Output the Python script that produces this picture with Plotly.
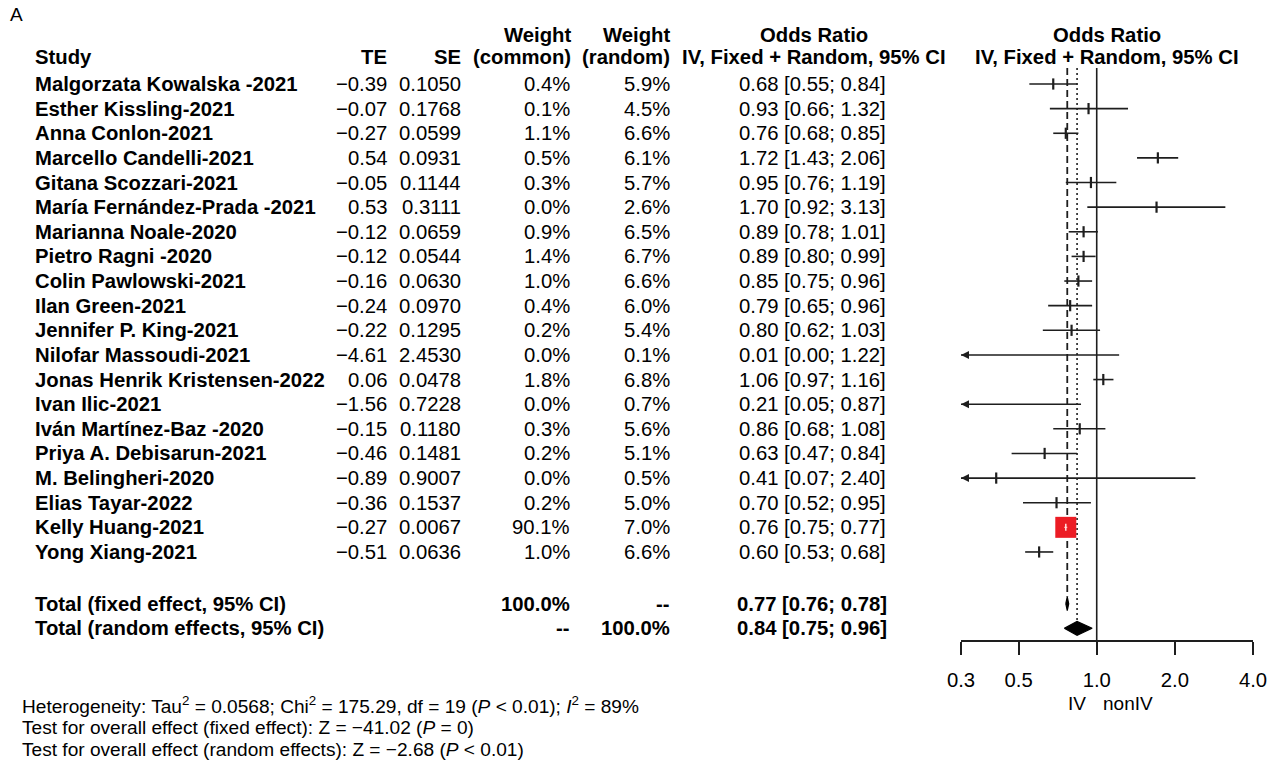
import math
import plotly.graph_objects as go

# ---------------- data ----------------
studies = [
    "Malgorzata Kowalska -2021", "Esther Kissling-2021", "Anna Conlon-2021",
    "Marcello Candelli-2021", "Gitana Scozzari-2021", "María Fernández-Prada -2021",
    "Marianna Noale-2020", "Pietro Ragni -2020", "Colin Pawlowski-2021",
    "Ilan Green-2021", "Jennifer P. King-2021", "Nilofar Massoudi-2021",
    "Jonas Henrik Kristensen-2022", "Ivan Ilic-2021", "Iván Martínez-Baz -2020",
    "Priya A. Debisarun-2021", "M. Belingheri-2020", "Elias Tayar-2022",
    "Kelly Huang-2021", "Yong Xiang-2021",
]
te = [-0.39, -0.07, -0.27, 0.54, -0.05, 0.53, -0.12, -0.12, -0.16, -0.24,
      -0.22, -4.61, 0.06, -1.56, -0.15, -0.46, -0.89, -0.36, -0.27, -0.51]
se = [0.1050, 0.1768, 0.0599, 0.0931, 0.1144, 0.3111, 0.0659, 0.0544, 0.0630, 0.0970,
      0.1295, 2.4530, 0.0478, 0.7228, 0.1180, 0.1481, 0.9007, 0.1537, 0.0067, 0.0636]
w_common = [0.4, 0.1, 1.1, 0.5, 0.3, 0.0, 0.9, 1.4, 1.0, 0.4,
            0.2, 0.0, 1.8, 0.0, 0.3, 0.2, 0.0, 0.2, 90.1, 1.0]
w_random = [5.9, 4.5, 6.6, 6.1, 5.7, 2.6, 6.5, 6.7, 6.6, 6.0,
            5.4, 0.1, 6.8, 0.7, 5.6, 5.1, 0.5, 5.0, 7.0, 6.6]
or_est = [0.68, 0.93, 0.76, 1.72, 0.95, 1.70, 0.89, 0.89, 0.85, 0.79,
          0.80, 0.01, 1.06, 0.21, 0.86, 0.63, 0.41, 0.70, 0.76, 0.60]
or_lo = [0.55, 0.66, 0.68, 1.43, 0.76, 0.92, 0.78, 0.80, 0.75, 0.65,
         0.62, 0.00, 0.97, 0.05, 0.68, 0.47, 0.07, 0.52, 0.75, 0.53]
or_hi = [0.84, 1.32, 0.85, 2.06, 1.19, 3.13, 1.01, 0.99, 0.96, 0.96,
         1.03, 1.22, 1.16, 0.87, 1.08, 0.84, 2.40, 0.95, 0.77, 0.68]

total_labels = ["Total (fixed effect, 95% CI)", "Total (random effects, 95% CI)"]
total_wc = ["100.0%", "--"]
total_wr = ["--", "100.0%"]
total_est = [0.77, 0.84]
total_lo = [0.76, 0.75]
total_hi = [0.78, 0.96]

axis_ticks = [0.3, 0.5, 1.0, 2.0, 4.0]
axis_ticktext = ["0.3", "0.5", "1.0", "2.0", "4.0"]
axis_min, axis_max = 0.3, 4.0

het_lines = [
    "Heterogeneity: Tau<sup>2</sup> = 0.0568; Chi<sup>2</sup> = 175.29, df = 19 (<i>P</i> < 0.01); <i>I</i><sup>2</sup> = 89%",
    "Test for overall effect (fixed effect): Z = \u221241.02 (<i>P</i> = 0)",
    "Test for overall effect (random effects): Z = \u22122.68 (<i>P</i> < 0.01)",
]

# ---------------- layout constants ----------------
W, H = 1279, 764
FONT = "Liberation Sans, Arial, Helvetica, sans-serif"
FS = 20.3
ROW0_PX, ROW_STEP = 84.0, 24.63
AXIS_PX, TOP_PX = 640.0, 20.0
n = len(studies)
study_rows = list(range(n))
total_rows = [n + 1.1, n + 2.1]
hdr_rows = [-2.0, -1.1]
y_bottom = (AXIS_PX - ROW0_PX) / ROW_STEP
y_top = (TOP_PX - ROW0_PX) / ROW_STEP
line_top = -0.65
DH = 0.28  # diamond half height (rows)
INK = "#1e1e1e"


def fmt_num(v, d):
    s = f"{abs(v):.{d}f}"
    return ("\u2212" + s) if v < 0 else s


def fmt_ci(e, l, h):
    return f"{e:.2f} [{l:.2f}; {h:.2f}]"


fig = go.Figure()

# reference lines
fig.add_trace(go.Scatter(x=[1.0, 1.0], y=[line_top, y_bottom], mode="lines",
                         line=dict(color=INK, width=1.6)))
fig.add_trace(go.Scatter(x=[total_est[0]] * 2, y=[line_top, total_rows[0] - DH], mode="lines",
                         line=dict(color=INK, width=1.8, dash="7px,4px")))
fig.add_trace(go.Scatter(x=[total_est[1]] * 2, y=[line_top, total_rows[1] - DH], mode="lines",
                         line=dict(color=INK, width=1.6, dash="2px,3px")))

# CI lines (clipped to axis)
cx, cy = [], []
for i in range(n):
    cx += [max(or_lo[i], axis_min), min(or_hi[i], axis_max), None]
    cy += [study_rows[i], study_rows[i], None]
fig.add_trace(go.Scatter(x=cx, y=cy, mode="lines", line=dict(color=INK, width=1.6)))

# arrows for truncated CIs
ax_ = [axis_min for i in range(n) if or_lo[i] < axis_min]
ay_ = [study_rows[i] for i in range(n) if or_lo[i] < axis_min]
fig.add_trace(go.Scatter(x=ax_, y=ay_, mode="markers", cliponaxis=False,
                         marker=dict(symbol="arrow-left", size=8, color=INK,
                                     line=dict(width=0))))

# squares: area proportional to common weight
wmax = max(w_common)
sizes = [21 * math.sqrt(w / wmax) for w in w_common]
big = [i for i in range(n) if sizes[i] >= 8 and axis_min <= or_est[i] <= axis_max]
small = [i for i in range(n) if sizes[i] < 8 and axis_min <= or_est[i] <= axis_max]
fig.add_trace(go.Scatter(x=[or_est[i] for i in small], y=[study_rows[i] for i in small],
                         mode="markers",
                         marker=dict(symbol="line-ns", size=8, color=INK,
                                     line=dict(color=INK, width=2.2))))
fig.add_trace(go.Scatter(x=[or_est[i] for i in big], y=[study_rows[i] for i in big],
                         mode="markers",
                         marker=dict(symbol="square", size=[sizes[i] for i in big],
                                     color="#ec1c24", opacity=1, line=dict(width=0))))
bx, by = [], []
for i in big:
    bx += [or_lo[i], or_hi[i], None]
    by += [study_rows[i], study_rows[i], None]
fig.add_trace(go.Scatter(x=bx, y=by, mode="lines", line=dict(color="#ffd0d0", width=1.2)))
fig.add_trace(go.Scatter(x=[or_est[i] for i in big], y=[study_rows[i] for i in big],
                         mode="markers",
                         marker=dict(symbol="line-ns", size=5, color="white",
                                     line=dict(color="#ffe0e0", width=1.5))))

# diamonds
for k in range(2):
    r = total_rows[k]
    fig.add_trace(go.Scatter(
        x=[total_lo[k], total_est[k], total_hi[k], total_est[k], total_lo[k]],
        y=[r, r - DH, r, r + DH, r], mode="lines", fill="toself",
        fillcolor="black", line=dict(color="black", width=1.2)))

# ---------------- text ----------------
ann = []


def txt(x_px, row, text, anchor="left", bold=False, size=FS, yref="y"):
    t = f"<b>{text}</b>" if bold else text
    ann.append(dict(x=x_px / W, xref="paper", y=row, yref=yref, text=t,
                    xanchor=anchor, yanchor="middle", showarrow=False,
                    font=dict(family=FONT, size=size, color="black")))


# headers
txt(33, hdr_rows[1], "Study", bold=True)
txt(389, hdr_rows[1], "TE", "right", True)
txt(463, hdr_rows[1], "SE", "right", True)
txt(573, hdr_rows[0], "Weight", "right", True)
txt(573, hdr_rows[1], "(common)", "right", True)
txt(672, hdr_rows[0], "Weight", "right", True)
txt(672, hdr_rows[1], "(random)", "right", True)
txt(814, hdr_rows[0], "Odds Ratio", "center", True)
txt(814, hdr_rows[1], "IV, Fixed + Random, 95% CI", "center", True)
txt(1107, hdr_rows[0], "Odds Ratio", "center", True)
txt(1107, hdr_rows[1], "IV, Fixed + Random, 95% CI", "center", True)

for i in range(n):
    r = study_rows[i]
    txt(33, r, studies[i], bold=True)
    txt(389, r, fmt_num(te[i], 2), "right")
    txt(463, r, f"{se[i]:.4f}", "right")
    txt(572, r, f"{w_common[i]:.1f}%", "right")
    txt(672, r, f"{w_random[i]:.1f}%", "right")
    txt(812, r, fmt_ci(or_est[i], or_lo[i], or_hi[i]), "center")

for k in range(2):
    r = total_rows[k]
    txt(33, r, total_labels[k], bold=True)
    txt(572, r, total_wc[k], "right", True)
    txt(672, r, total_wr[k], "right", True)
    txt(812, r, fmt_ci(total_est[k], total_lo[k], total_hi[k]), "center", True)

# panel letter
txt(8, 1 - 15 / H, "A", size=19, yref="paper")
# favours labels
txt(1077, 1 - 703 / H, "IV", "center", size=19, yref="paper")
txt(1128, 1 - 703 / H, "nonIV", "center", size=19, yref="paper")
# heterogeneity
for j, line in enumerate(het_lines):
    txt(20, 1 - (705 + 22 * j) / H, line, size=19.1, yref="paper")

fig.update_layout(
    template="none",
    width=W, height=H, margin=dict(l=0, r=0, t=0, b=0, pad=0, autoexpand=False),
    paper_bgcolor="white", plot_bgcolor="white", showlegend=False,
    annotations=ann,
    xaxis=dict(type="log", domain=[961 / W, 1253 / W], automargin=False,
               range=[math.log10(axis_min), math.log10(axis_max)],
               tickvals=axis_ticks, ticktext=axis_ticktext,
               ticks="outside", ticklen=13, tickwidth=1.6, tickcolor=INK,
               showline=True, linecolor=INK, linewidth=1.6,
               showgrid=False, zeroline=False, ticklabelstandoff=8,
               tickfont=dict(family=FONT, size=FS, color="black"), anchor="y"),
    yaxis=dict(domain=[1 - AXIS_PX / H, 1 - TOP_PX / H], range=[y_bottom, y_top],
               automargin=False, visible=False, showgrid=False, zeroline=False),
)

fig.write_html("out.html", config={"displayModeBar": False, "responsive": False},
               post_script="document.body.style.margin='0';document.body.style.overflow='hidden';")
